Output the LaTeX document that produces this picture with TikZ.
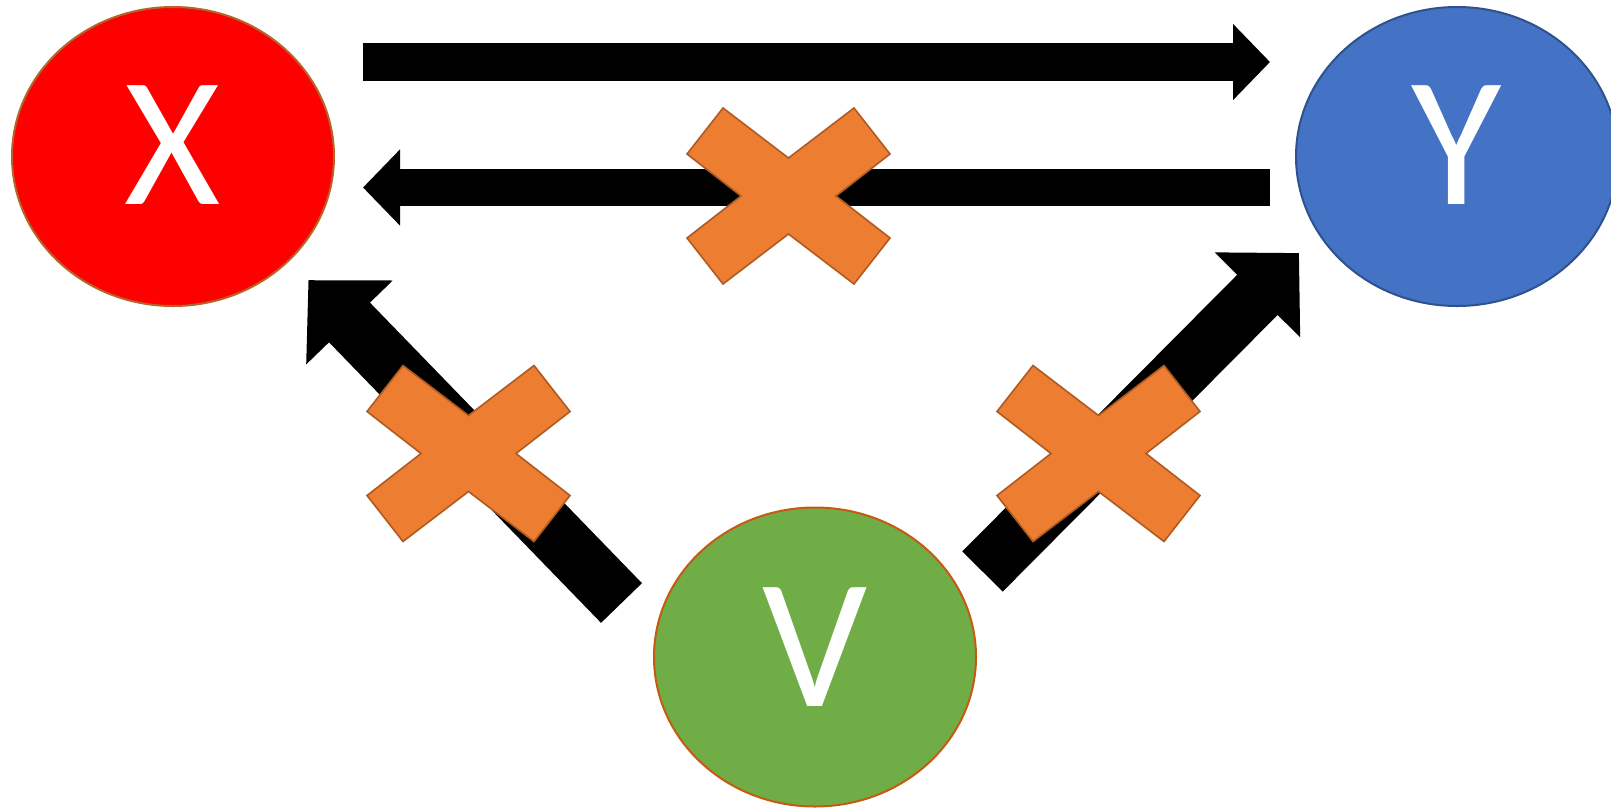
\documentclass[tikz,border=0pt]{standalone}
\usepackage{fontspec}
\setmainfont{Carlito}
\usetikzlibrary{arrows.meta,shapes.geometric}
\definecolor{xred}{HTML}{FF0000}
\definecolor{xbord}{HTML}{B5652A}
\definecolor{yblue}{HTML}{4472C4}
\definecolor{ybord}{HTML}{2F528F}
\definecolor{vgreen}{HTML}{70AD47}
\definecolor{vbord}{HTML}{C55A11}
\definecolor{crossfill}{HTML}{ED7D31}
\definecolor{crossline}{HTML}{AE5A21}
\begin{document}
\begin{tikzpicture}[x=0.5pt,y=-0.5pt,
  bubble/.style={ellipse, draw, line width=1pt, minimum width=161pt, minimum height=149.5pt, inner sep=0pt},
  letter/.style={text=white, font=\fontsize{92.6}{100}\selectfont, inner sep=0pt, anchor=base},
  thinarrow/.style={line width=18.75pt, -{Triangle[length=18.5pt,width=37pt]}},
  fatarrow/.style={line width=28.5pt, -{Triangle[length=29.5pt,width=58.5pt]}},
  crossmark/.pic={\filldraw[fill=crossfill, draw=crossline, line width=0.8pt, line join=miter]
    (0,-38) -- (65.5,-88) -- (101.5,-42) -- (47.5,0) -- (101.5,42) -- (65.5,88) -- (0,38)
    -- (-65.5,88) -- (-101.5,42) -- (-47.5,0) -- (-101.5,-42) -- (-65.5,-88) -- cycle;}]
\useasboundingbox (0,0) rectangle (1611,810);
\fill[white] (0,0) rectangle (1611,810);
% ellipses
\node[bubble, fill=xred, draw=xbord] (X) at (173,156.5) {};
\node[bubble, fill=yblue, draw=ybord] (Y) at (1457,156.5) {};
\node[bubble, fill=vgreen, draw=vbord] (V) at (815,657) {};
\node[letter] (Xl) at (173,204) {X};
\node[letter] (Yl) at (1457,204) {Y};
\node[letter] (Vl) at (815.5,706) {V};
% arrows
\coordinate (t1) at (363,62);
\coordinate (t2) at (1270,62);
\draw[thinarrow] (t1) -- (t2);
\coordinate (b1) at (1270,187.5);
\coordinate (b2) at (363,187.5);
\draw[thinarrow] (b1) -- (b2);
\coordinate (l1) at (621.5,603);
\coordinate (l2) at (308.4,280.1);
\draw[fatarrow] (l1) -- (l2);
\coordinate (r1) at (982.5,571.5);
\coordinate (r2) at (1299,253);
\draw[fatarrow] (r1) -- (r2);
% crosses
\pic at (788.5,196) {crossmark};
\pic at (468.5,453.5) {crossmark};
\pic at (1098.5,453.5) {crossmark};
\end{tikzpicture}
\end{document}
